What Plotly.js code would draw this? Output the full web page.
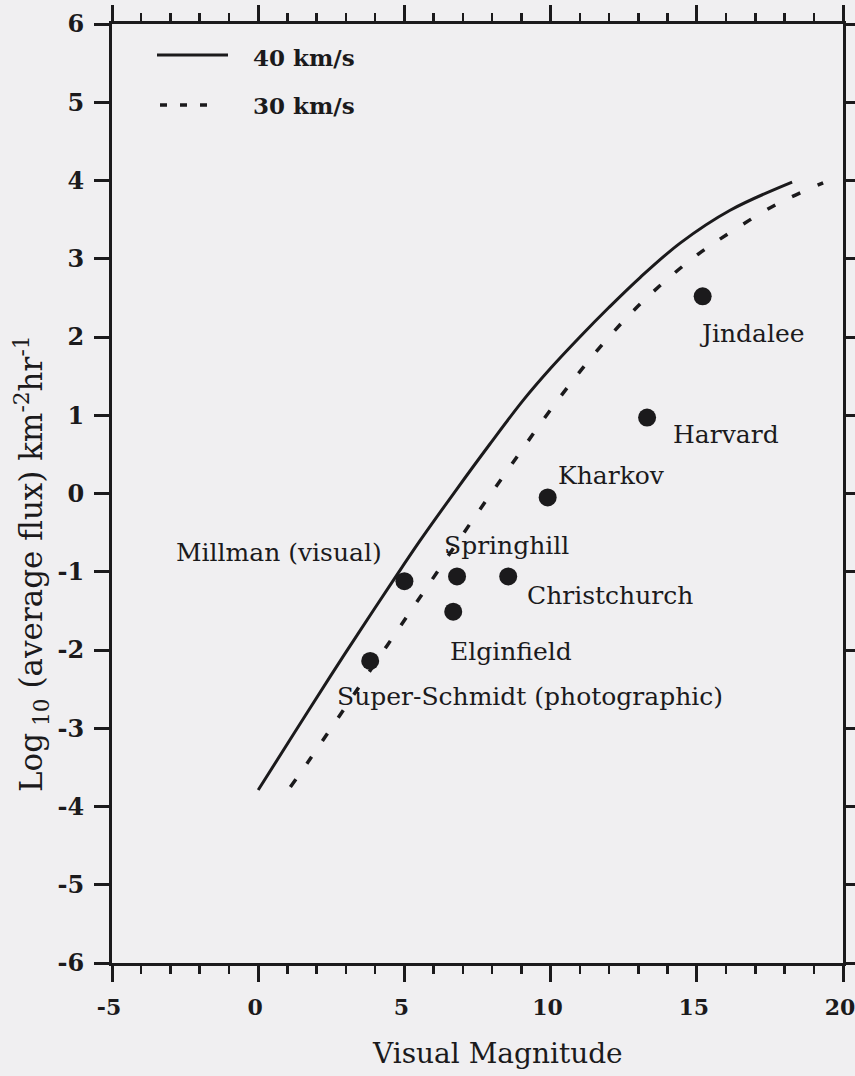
<!DOCTYPE html>
<html>
<head>
<meta charset="utf-8">
<script src="https://cdn.plot.ly/plotly-3.0.1.min.js"></script>
<style>
  html, body { margin: 0; padding: 0; background: #f0eff1; }
  #chart { width: 855px; height: 1076px; }
</style>
</head>
<body>
<div id="chart"></div>
<script>
// ---- Data ----
const seriesNames = ['40 km/s', '30 km/s'];

const mag40  = [0, 1.2, 2.46, 3.4, 4.62, 5.54, 6.8, 7.9, 9.06, 10.0, 11.0, 12.0, 13.06, 14.43, 16.14, 18.26];
const flux40 = [-3.79, -3.08, -2.34, -1.8, -1.11, -0.6, 0.06, 0.62, 1.19, 1.6, 2.0, 2.38, 2.76, 3.2, 3.62, 3.98];

const mag30  = [1.1, 1.78, 2.8, 3.56, 4.58, 5.71, 7.35, 8.38, 10.26, 11.76, 13.17, 14.84, 16.24, 17.75, 19.32];
const flux30 = [-3.75, -3.39, -2.83, -2.41, -1.85, -1.23, -0.33, 0.22, 1.2, 1.9, 2.46, 3.0, 3.36, 3.7, 3.97];

const radarNames = ['Jindalee', 'Harvard', 'Kharkov', 'Millman (visual)', 'Springhill',
                    'Christchurch', 'Elginfield', 'Super-Schmidt (photographic)'];
const radarMag  = [15.2, 13.3, 9.9, 5.0, 6.8, 8.55, 6.67, 3.83];
const radarFlux = [2.52, 0.97, -0.05, -1.12, -1.06, -1.06, -1.51, -2.14];

const xTickVals = [-5, 0, 5, 10, 15, 20];
const xTickText = ['-5', '0', '5', '10', '15', '20'];
const yTickVals = [-6, -5, -4, -3, -2, -1, 0, 1, 2, 3, 4, 5, 6];
const yTickText = ['-6', '-5', '-4', '-3', '-2', '-1', '0', '1', '2', '3', '4', '5', '6'];

const xTitle = 'Visual Magnitude';
const yTitle = 'Log<sub> 10</sub> (average flux) km<sup>-2</sup>hr<sup>-1</sup>';

// ---- Styling / placement ----
const INK = '#1b1a1c';
const FONT = 'DejaVu Serif, Liberation Serif, serif';

// label placement relative to each point (pixels)
const labelPlace = [
  {anchor: 'left',  dx: -6,  dy: -37},
  {anchor: 'left',  dx: 24,  dy: -17},
  {anchor: 'left',  dx: 8,   dy: 22},
  {anchor: 'right', dx: -20, dy: 29},
  {anchor: 'left',  dx: -15, dy: 31},
  {anchor: 'left',  dx: 17,  dy: -19},
  {anchor: 'left',  dx: -5,  dy: -40},
  {anchor: 'left',  dx: -35, dy: -36}
];

const traces = [
  {
    x: mag40, y: flux40, type: 'scatter', mode: 'lines', name: seriesNames[0],
    line: {color: INK, width: 3, shape: 'spline', smoothing: 1},
    hoverinfo: 'skip', showlegend: false
  },
  {
    x: mag30, y: flux30, type: 'scatter', mode: 'lines', name: seriesNames[1],
    line: {color: INK, width: 3.5, shape: 'spline', smoothing: 1, dash: '9px,19px'},
    hoverinfo: 'skip', showlegend: false
  },
  {
    x: radarMag, y: radarFlux, type: 'scatter', mode: 'markers', name: 'radars',
    marker: {color: INK, size: 18}, text: radarNames, showlegend: false
  }
];

const W = 855, H = 1076;
const M = {l: 112, r: 12, t: 24, b: 113};
const plotW = W - M.l - M.r, plotH = H - M.t - M.b;
const px2x = p => (p - M.l) / plotW;
const py2y = p => (H - M.b - p) / plotH;

const annotations = radarNames.map((n, i) => ({
  x: radarMag[i], y: radarFlux[i], xref: 'x', yref: 'y',
  text: n, showarrow: false,
  xanchor: labelPlace[i].anchor, yanchor: 'middle',
  xshift: labelPlace[i].dx, yshift: labelPlace[i].dy,
  font: {family: FONT, size: 25, color: INK}
}));

// legend text
annotations.push(
  {xref: 'paper', yref: 'paper', x: px2x(251), y: py2y(57), text: seriesNames[0], showarrow: false,
   xanchor: 'left', yanchor: 'middle', font: {family: FONT, size: 23, color: INK, weight: 'bold'}},
  {xref: 'paper', yref: 'paper', x: px2x(251), y: py2y(105), text: seriesNames[1], showarrow: false,
   xanchor: 'left', yanchor: 'middle', font: {family: FONT, size: 23, color: INK, weight: 'bold'}}
);
// axis titles
annotations.push(
  {xref: 'paper', yref: 'paper', x: px2x(497), y: py2y(1053), text: xTitle, showarrow: false,
   xanchor: 'center', yanchor: 'middle', font: {family: FONT, size: 28, color: INK}},
  {xref: 'paper', yref: 'paper', x: px2x(32), y: py2y(564), text: yTitle, showarrow: false,
   textangle: -90, xanchor: 'center', yanchor: 'middle', font: {family: FONT, size: 31, color: INK}}
);

const shapes = [
  {type: 'line', xref: 'paper', yref: 'paper', x0: px2x(157), x1: px2x(228), y0: py2y(55), y1: py2y(55),
   line: {color: INK, width: 3}},
  {type: 'line', xref: 'paper', yref: 'paper', x0: px2x(160), x1: px2x(214), y0: py2y(105), y1: py2y(105),
   line: {color: INK, width: 3.5, dash: '7px,13px'}}
];

const layout = {
  width: W, height: H,
  margin: M,
  paper_bgcolor: '#f0eff1',
  plot_bgcolor: 'rgba(0,0,0,0)',
  showlegend: false,
  xaxis: {
    range: [-5, 20], tickvals: xTickVals, ticktext: xTickText,
    showgrid: false, zeroline: false,
    showline: true, linewidth: 3, linecolor: INK, mirror: 'allticks',
    ticks: 'outside', ticklen: 16, tickwidth: 3, tickcolor: INK,
    ticklabelstandoff: 7, ticklabelshift: -3, ticklabeloverflow: 'allow',
    minor: {dtick: 1, ticks: 'outside', ticklen: 8, tickwidth: 2.5, tickcolor: INK, showgrid: false},
    tickfont: {family: FONT, size: 22, color: INK, weight: 'bold'}
  },
  yaxis: {
    range: [-6, 6], tickvals: yTickVals, ticktext: yTickText,
    showgrid: false, zeroline: false,
    showline: true, linewidth: 3, linecolor: INK, mirror: 'allticks',
    ticks: 'outside', ticklen: 15, tickwidth: 3, tickcolor: INK,
    ticklabelstandoff: 5, ticklabeloverflow: 'allow',
    tickfont: {family: FONT, size: 24, color: INK, weight: 'bold'}
  },
  annotations: annotations,
  shapes: shapes
};

Plotly.newPlot('chart', traces, layout, {staticPlot: true});
</script>
</body>
</html>
